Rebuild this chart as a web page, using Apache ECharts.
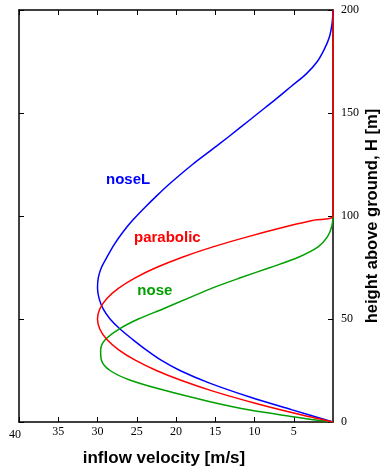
<!DOCTYPE html>
<html>
<head>
<meta charset="utf-8">
<script src="https://cdn.jsdelivr.net/npm/echarts@6/dist/echarts.min.js"></script>
<style>
  html, body { margin: 0; padding: 0; background: #fff; }
  #chart { width: 382px; height: 470px; }
</style>
</head>
<body>
<div id="chart"></div>
<script>
// Inflow velocity profiles: velocity [m/s] against height above ground [m]
const noseLHeight = [0, 6, 12, 19, 25, 30, 35, 40, 45, 50, 55, 60, 65, 70, 75, 80, 86, 92, 98, 104, 110, 116, 125, 134, 143, 150, 157, 163, 169, 175, 181, 187, 194, 200];
const noseLVel    = [0, 5.3, 10.5, 15.8, 19.5, 21.9, 23.8, 25.5, 27.1, 28.4, 29.3, 29.8, 30.0, 29.9, 29.5, 28.8, 27.9, 26.8, 25.5, 24.0, 22.4, 20.7, 17.9, 14.8, 11.8, 9.5, 7.2, 5.3, 3.4, 2.0, 1.1, 0.45, 0.1, 0];

const parabolicHeight = [0, 4, 9, 15, 20, 25, 30, 35, 40, 45, 50, 55, 60, 65, 70, 75, 80, 85, 90, 95, 98, 100, 200];
const parabolicVel    = [0, 4.6, 9.8, 15.3, 19.2, 22.5, 25.2, 27.3, 28.8, 29.7, 30.0, 29.7, 28.8, 27.3, 25.2, 22.5, 19.2, 15.3, 10.8, 5.8, 2.4, 0, 0];

const noseHeight = [0, 1, 2.6, 5.8, 10, 15.5, 20.4, 25, 30, 35, 40, 45, 50, 55, 60, 65, 70, 75, 80, 85, 90, 95, 100];
const noseVel    = [0, 2.2, 5.1, 10.6, 15.8, 21.6, 25.9, 28.4, 29.5, 29.6, 29.0, 27.3, 24.8, 21.6, 18.5, 15.4, 11.8, 8.0, 4.4, 1.9, 0.7, 0.15, 0];

const seriesNames  = ['noseL', 'parabolic', 'nose'];
const seriesColors = ['#0000ff', '#ff0000', '#00a000'];

// Curve label positions in data units [velocity, height]
const labelVel    = [26.1, 21.1, 22.7];
const labelHeight = [117.5, 89.6, 63.6];

const xTicks = [40, 35, 30, 25, 20, 15, 10, 5];
const yTicks = [0, 50, 100, 150, 200];

function pairs(vel, h) { return vel.map((v, i) => [v, h[i]]); }

const curves = [
  pairs(noseLVel, noseLHeight),
  pairs(parabolicVel, parabolicHeight),
  pairs(noseVel, noseHeight)
];

const chart = echarts.init(document.getElementById('chart'), null, { renderer: 'canvas' });

const frame = { show: true, onZero: false, lineStyle: { color: '#000', width: 1.5 } };
const inTick = { show: true, inside: true, length: 5, lineStyle: { color: '#000', width: 1 } };
const serif = 'Liberation Serif, Times New Roman, serif';
const sans = 'Liberation Sans, Arial, Helvetica, sans-serif';

const series = curves.map((d, i) => ({
  name: seriesNames[i],
  type: 'line',
  data: d,
  showSymbol: false,
  smooth: 0.3,
  lineStyle: { color: seriesColors[i], width: 1.5 },
  z: i === 1 ? 4 : 3,
  animation: false,
  markPoint: {
    symbol: 'circle',
    symbolSize: 0,
    silent: true,
    label: {
      show: true,
      formatter: seriesNames[i],
      color: seriesColors[i],
      fontFamily: sans,
      fontWeight: 'bold',
      fontSize: 15,
      position: 'inside'
    },
    data: [{ coord: [labelVel[i], labelHeight[i]] }]
  }
}));

chart.setOption({
  animation: false,
  backgroundColor: '#fff',
  grid: { left: 19, right: 49, top: 10, bottom: 48, containLabel: false, outerBoundsMode: 'none' },
  xAxis: [
    {
      type: 'value', min: 0, max: 40, interval: 5, inverse: true, position: 'bottom',
      axisLine: frame, axisTick: inTick, splitLine: { show: false },
      axisLabel: {
        show: true, margin: 4, showMinLabel: false,
        color: '#000', fontFamily: serif, fontSize: 12,
        formatter: v => (xTicks.indexOf(v) === 0 ? '{first|' + v + '}' : (xTicks.indexOf(v) >= 0 ? String(v) : '')),
        rich: { first: { fontFamily: serif, fontSize: 12, color: '#000', padding: [3, 8, 0, 0] } }
      },
      name: 'inflow velocity [m/s]', nameLocation: 'middle', nameGap: 28,
      nameTextStyle: { color: '#000', fontFamily: sans, fontWeight: 'bold', fontSize: 17, padding: [0, 24, 0, 0] }
    },
    {
      type: 'value', min: 0, max: 40, interval: 5, inverse: true, position: 'top',
      axisLine: frame, axisTick: inTick, axisLabel: { show: false }, splitLine: { show: false }
    }
  ],
  yAxis: [
    {
      type: 'value', min: 0, max: 200, interval: 50, position: 'right',
      axisLine: frame, axisTick: inTick, splitLine: { show: false },
      axisLabel: {
        show: true, margin: 8, color: '#000', fontFamily: serif, fontSize: 12,
        formatter: v => (yTicks.indexOf(v) >= 0 ? String(v) : '')
      },
      name: 'height above ground, H [m]', nameLocation: 'middle', nameGap: 31, nameRotate: 90,
      nameMoveOverlap: false,
      nameTextStyle: { color: '#000', fontFamily: sans, fontWeight: 'bold', fontSize: 16.5 }
    },
    {
      type: 'value', min: 0, max: 200, interval: 50, position: 'left',
      axisLine: frame, axisTick: inTick, axisLabel: { show: false }, splitLine: { show: false }
    }
  ],
  series: series
});
</script>
</body>
</html>
